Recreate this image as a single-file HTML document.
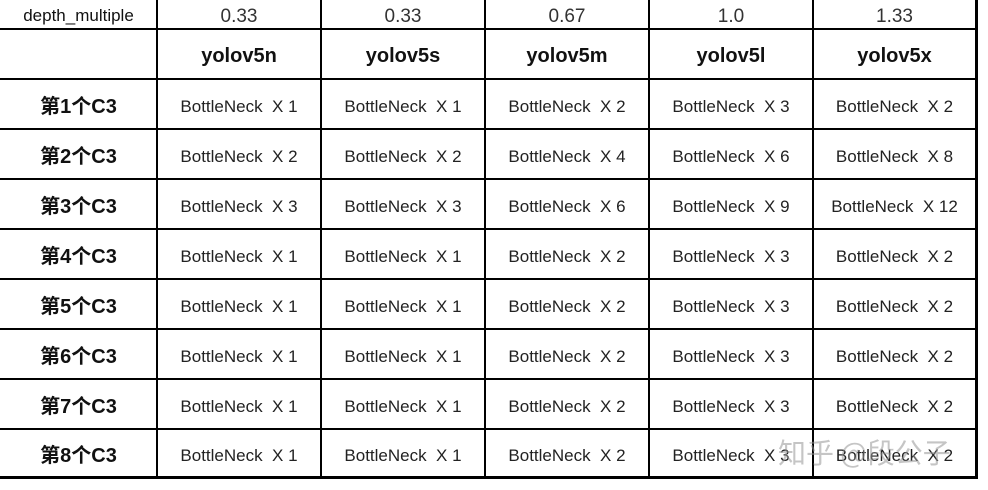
<!DOCTYPE html>
<html><head><meta charset="utf-8"><style>
body{margin:0;width:988px;height:490px;background:#fff;position:relative;overflow:hidden;font-family:"Liberation Sans","Noto Sans CJK SC",sans-serif;color:#111}
.h{position:absolute;left:0;width:977px;height:1.5px;background:#000}
.v{position:absolute;top:0;width:1.5px;height:478px;background:#000}
.c{position:absolute;display:flex;align-items:center;justify-content:center;text-align:center;white-space:pre;box-sizing:border-box}
.bn{font-size:17px;color:#222;padding-top:5px}
.b{font-weight:bold}
</style></head><body>
<div class="h" style="top:28px"></div>
<div class="h" style="top:78px"></div>
<div class="h" style="top:128px"></div>
<div class="h" style="top:178px"></div>
<div class="h" style="top:228px"></div>
<div class="h" style="top:278px"></div>
<div class="h" style="top:328px"></div>
<div class="h" style="top:378px"></div>
<div class="h" style="top:428px"></div>
<div class="h" style="top:476px;height:3px"></div>
<div class="v" style="left:156px"></div>
<div class="v" style="left:320px"></div>
<div class="v" style="left:484px"></div>
<div class="v" style="left:648px"></div>
<div class="v" style="left:812px"></div>
<div class="v" style="left:975px;width:3px;height:479px"></div>
<div id="t"></div>
<script>
var cols=[0,157,321,485,649,813,976];
var rows=[0,29,79,129,179,229,279,329,379,429,477];
var out='';
function cell(c,r,txt,cls,style){out+='<div class="c '+cls+'" style="left:'+cols[c]+'px;top:'+rows[r]+'px;width:'+(cols[c+1]-cols[c])+'px;height:'+(rows[r+1]-rows[r])+'px;'+(style||'')+'">'+txt+'</div>';}
cell(0,0,'depth_multiple','','font-size:17px;padding-top:2px');
['0.33','0.33','0.67','1.0','1.33'].forEach(function(t,i){cell(i+1,0,t,'','font-size:19px;color:#333;padding-top:5px');});
['yolov5n','yolov5s','yolov5m','yolov5l','yolov5x'].forEach(function(t,i){cell(i+1,1,t,'b','font-size:20px;padding-top:5px');});
var d=[[1,1,2,3,2],[2,2,4,6,8],[3,3,6,9,12],[1,1,2,3,2],[1,1,2,3,2],[1,1,2,3,2],[1,1,2,3,2],[1,1,2,3,2]];
for(var r=0;r<8;r++){cell(0,r+2,'第'+(r+1)+'个C3','b','font-size:20px');
for(var c=0;c<5;c++)cell(c+1,r+2,'BottleNeck  X '+d[r][c],'bn');}
out+='<div style="position:absolute;left:778px;top:432px;font-size:28px;color:rgba(150,150,150,0.55);font-family:\'Noto Sans CJK SC\',sans-serif">知乎 @段公子</div>';
document.getElementById('t').innerHTML=out;
</script>
</body></html>
